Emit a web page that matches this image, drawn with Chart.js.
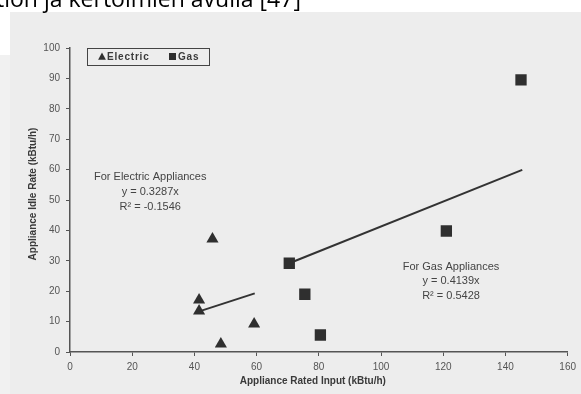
<!DOCTYPE html>
<html>
<head>
<meta charset="utf-8">
<script src="https://cdn.jsdelivr.net/npm/chart.js@4"></script>
<style>
  html, body { margin:0; padding:0; background:#ffffff; width:581px; height:394px; overflow:hidden; }
  #bg1 { position:absolute; left:10px; top:12px; right:0; bottom:0; background:#ededed; }
  #bg2 { position:absolute; left:0; top:55px; width:10px; bottom:0; background:#f1f1f1; }
  #c { position:absolute; left:0; top:0; }
</style>
</head>
<body>
<div id="bg1"></div>
<div id="bg2"></div>
<canvas id="c" width="581" height="394"></canvas>
<script>
// ---- data ----
const elecX = [41.5, 41.5, 45.8, 48.5, 59.2];
const elecY = [17.1, 13.5, 37.2, 2.6, 9.2];
const gasX = [70.5, 75.5, 80.5, 121, 145];
const gasY = [29.2, 19.0, 5.6, 39.8, 89.5];
const elecTrendX = [42.3, 59.4];
const elecTrendY = [13.6, 19.3];
const gasTrendX = [70.5, 145.4];
const gasTrendY = [29.2, 59.9];
const seriesNames = ['Electric', 'Gas'];
const elecNote = ['For Electric Appliances', 'y = 0.3287x', 'R\u00B2 = -0.1546'];
const gasNote = ['For Gas Appliances', 'y = 0.4139x', 'R\u00B2 = 0.5428'];
const xTitle = 'Appliance Rated Input (kBtu/h)';
const yTitle = 'Appliance Idle Rate (kBtu/h)';
const headerText = 'tion ja kertoimien avulla [47]';
const xTickMin = 0, xTickMax = 160, xTickStep = 20;
const yTickMin = 0, yTickMax = 100, yTickStep = 10;

const pts = (xs, ys) => xs.map((x, i) => ({x: x, y: ys[i]}));
const INK = '#2f2f2f';
const FONT = '"Liberation Sans", Arial, sans-serif';

function tri(ctx, x, y, r) {
  ctx.beginPath();
  ctx.moveTo(x, y - r);
  ctx.lineTo(x + r * 0.866, y + r * 0.6);
  ctx.lineTo(x - r * 0.866, y + r * 0.6);
  ctx.closePath();
  ctx.fill();
}

const extras = {
  id: 'extras',
  afterDraw(chart) {
    const ctx = chart.ctx;
    const xs = chart.scales.x, ys = chart.scales.y;
    const ca = chart.chartArea;
    ctx.save();
    // header text (cut at top)
    ctx.fillStyle = '#000';
    ctx.font = '23px "Open Sans", sans-serif';
    ctx.textAlign = 'left';
    ctx.textBaseline = 'alphabetic';
    ctx.fillText(headerText, -4, 7);

    // axis titles
    ctx.fillStyle = '#3a3a3a';
    ctx.font = 'bold 10px ' + FONT;
    ctx.textAlign = 'center';
    ctx.textBaseline = 'middle';
    ctx.fillText(xTitle, (ca.left + ca.right) / 2 - 6, 381);
    ctx.save();
    ctx.translate(33, 194);
    ctx.rotate(-Math.PI / 2);
    ctx.fillText(yTitle, 0, 0);
    ctx.restore();

    // legend
    const lx = ca.left + 17, ly = ca.top;
    ctx.strokeStyle = '#444';
    ctx.lineWidth = 1;
    ctx.strokeRect(lx + 0.5, ly + 0.5, 122, 17);
    ctx.fillStyle = INK;
    tri(ctx, lx + 15, ly + 9, 4.5);
    ctx.fillRect(lx + 82, ly + 5, 7, 7);
    ctx.fillStyle = '#3a3a3a';
    ctx.font = 'bold 10px ' + FONT;
    ctx.textAlign = 'left';
    ctx.textBaseline = 'middle';
    if ('letterSpacing' in ctx) ctx.letterSpacing = '0.8px';
    ctx.fillText(seriesNames[0], lx + 20, ly + 9.5);
    ctx.fillText(seriesNames[1], lx + 91, ly + 9.5);
    if ('letterSpacing' in ctx) ctx.letterSpacing = '0px';

    // annotations
    ctx.font = '11px ' + FONT;
    ctx.fillStyle = '#444';
    ctx.textAlign = 'center';
    const ex = xs.getPixelForValue(25.8), ey = ys.getPixelForValue(57.5);
    elecNote.forEach((t, i) => ctx.fillText(t, ex, ey + i * 15));
    const gx = xs.getPixelForValue(122.5), gy = ys.getPixelForValue(28);
    gasNote.forEach((t, i) => ctx.fillText(t, gx, gy + i * 14.5));
    ctx.restore();
  }
};

new Chart(document.getElementById('c'), {
  type: 'scatter',
  data: {
    datasets: [
      { label: seriesNames[0], data: pts(elecX, elecY), pointStyle: 'triangle', pointRadius: 7,
        backgroundColor: INK, borderColor: INK, borderWidth: 0, order: 1 },
      { label: seriesNames[1], data: pts(gasX, gasY), pointStyle: 'rect', pointRadius: 8,
        backgroundColor: INK, borderColor: INK, borderWidth: 0, order: 1 },
      { type: 'line', label: 'Electric trend', data: pts(elecTrendX, elecTrendY), showLine: true,
        borderColor: '#333', borderWidth: 2, pointRadius: 0, fill: false, order: 2 },
      { type: 'line', label: 'Gas trend', data: pts(gasTrendX, gasTrendY), showLine: true,
        borderColor: '#333', borderWidth: 2, pointRadius: 0, fill: false, order: 2 }
    ]
  },
  options: {
    responsive: false,
    animation: false,
    layout: { padding: { top: 48, right: 11, left: 0, bottom: 0 } },
    plugins: { legend: { display: false }, tooltip: { enabled: false } },
    scales: {
      x: {
        type: 'linear', min: xTickMin, max: xTickMax,
        ticks: { stepSize: xTickStep, color: '#555', font: { family: FONT, size: 10 }, padding: 5, maxRotation: 0 },
        grid: { display: true, drawOnChartArea: false, drawTicks: true, tickLength: 4, color: '#555' },
        border: { display: true, color: '#555', width: 1.5 },
        afterFit(s) { s.height = 42; }
      },
      y: {
        type: 'linear', min: yTickMin, max: yTickMax,
        ticks: { stepSize: yTickStep, color: '#555', font: { family: FONT, size: 10 }, padding: 6 },
        grid: { display: true, drawOnChartArea: false, drawTicks: true, tickLength: 4, color: '#555' },
        border: { display: true, color: '#555', width: 1.5 },
        afterFit(s) { s.width = 70; }
      }
    }
  },
  plugins: [extras]
});
</script>
</body>
</html>
